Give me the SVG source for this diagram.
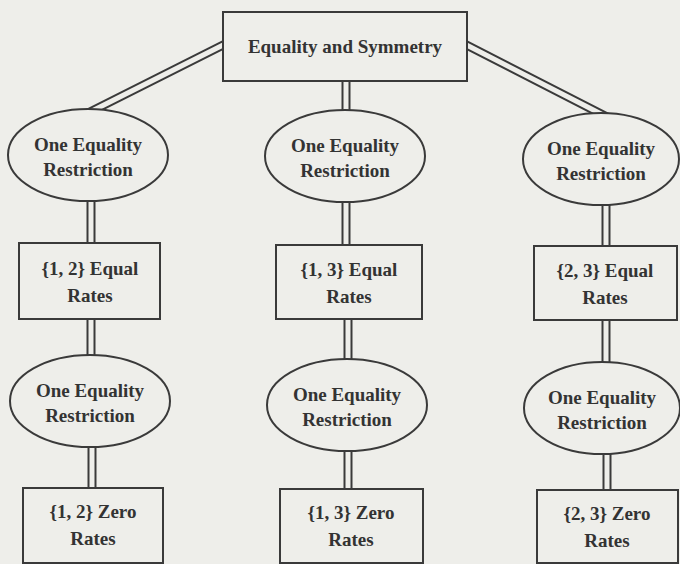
<svg xmlns="http://www.w3.org/2000/svg" width="680" height="564" viewBox="0 0 680 564">
<style>
.bg{fill:#eeeeea}
.node{fill:#eeeeea;stroke:#3a3a3a;stroke-width:2}
.outer{fill:none;stroke:#3a3a3a;stroke-width:9}
.inner{fill:none;stroke:#eeeeea;stroke-width:5}
text{font-family:"Liberation Serif","Times New Roman",serif;font-weight:bold;font-size:19px;fill:#333;text-anchor:middle}
</style>
<rect class="bg" x="0" y="0" width="680" height="564"/>
<g id="connectors">
<path class="outer" d="M243,35 L80,117 M447,35 L611,119 M346,70 V120 M91,190 V255 M91,310 V367 M92,440 V500 M346,190 V255 M348,310 V370 M348,440 V500 M606,195 V255 M606,310 V372 M607,445 V500"/>
<path class="inner" d="M243,35 L80,117 M447,35 L611,119 M346,70 V120 M91,190 V255 M91,310 V367 M92,440 V500 M346,190 V255 M348,310 V370 M348,440 V500 M606,195 V255 M606,310 V372 M607,445 V500"/>
</g>
<g id="root"><rect class="node" x="223" y="12" width="244" height="69"/><text x="345" y="53">Equality and Symmetry</text></g>
<g id="r1a"><ellipse class="node" cx="88" cy="155" rx="80" ry="46"/><text x="88" y="151">One Equality</text><text x="88" y="176">Restriction</text></g>
<g id="r1b"><ellipse class="node" cx="345" cy="156" rx="80" ry="46"/><text x="345" y="152">One Equality</text><text x="345" y="177">Restriction</text></g>
<g id="r1c"><ellipse class="node" cx="601" cy="159" rx="78" ry="46"/><text x="601" y="155">One Equality</text><text x="601" y="180">Restriction</text></g>
<g id="eq12"><rect class="node" x="19" y="243" width="141" height="76"/><text x="90" y="275">{1, 2} Equal</text><text x="90" y="302">Rates</text></g>
<g id="eq13"><rect class="node" x="276" y="245" width="146" height="74"/><text x="349" y="276">{1, 3} Equal</text><text x="349" y="303">Rates</text></g>
<g id="eq23"><rect class="node" x="534" y="246" width="143" height="74"/><text x="605" y="277">{2, 3} Equal</text><text x="605" y="304">Rates</text></g>
<g id="r2a"><ellipse class="node" cx="90" cy="401" rx="80" ry="46"/><text x="90" y="397">One Equality</text><text x="90" y="422">Restriction</text></g>
<g id="r2b"><ellipse class="node" cx="347" cy="405" rx="80" ry="46"/><text x="347" y="401">One Equality</text><text x="347" y="426">Restriction</text></g>
<g id="r2c"><ellipse class="node" cx="602" cy="408" rx="78" ry="46"/><text x="602" y="404">One Equality</text><text x="602" y="429">Restriction</text></g>
<g id="z12"><rect class="node" x="23" y="488" width="140" height="75"/><text x="93" y="518">{1, 2} Zero</text><text x="93" y="545">Rates</text></g>
<g id="z13"><rect class="node" x="280" y="489" width="143" height="74"/><text x="351" y="519">{1, 3} Zero</text><text x="351" y="546">Rates</text></g>
<g id="z23"><rect class="node" x="537" y="490" width="141" height="73"/><text x="607" y="520">{2, 3} Zero</text><text x="607" y="547">Rates</text></g>
</svg>
